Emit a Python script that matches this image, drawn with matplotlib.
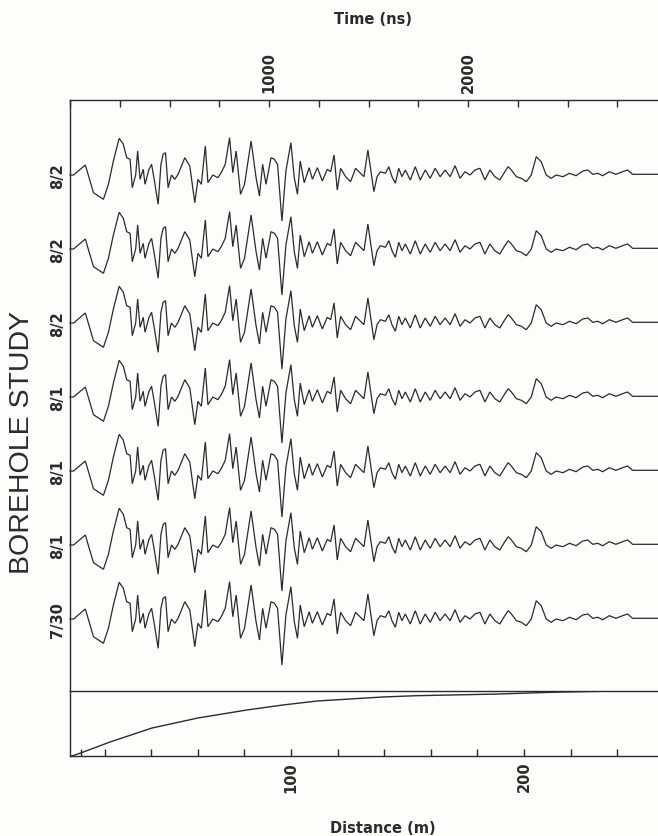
import matplotlib
matplotlib.use("Agg")
import matplotlib.pyplot as plt
from matplotlib.transforms import blended_transform_factory

W, H = 658, 837

# ---------------- data ----------------
trace_labels = ["8/2", "8/2", "8/2", "8/1", "8/1", "8/1", "7/30"]
trace_gain = [1.0, 1.0, 1.0, 1.0, 1.0, 1.0, 1.0]

# one recorded waveform (time in ns, amplitude in screen-ish units)
trace_time = [0, 18, 77, 118, 168, 193, 218, 247, 268, 285, 302, 313, 330, 340, 352, 368,
              377, 397, 410, 423, 443, 457, 468, 480, 493, 510, 527, 543, 577, 602, 627,
              643, 660, 680, 693, 718, 743, 760, 780, 802, 818, 835, 857, 877, 910, 935,
              952, 968, 985, 1010, 1027, 1043, 1065, 1085, 1110, 1127, 1143, 1157, 1177,
              1202, 1218, 1243, 1268, 1293, 1310, 1327, 1343, 1360, 1385, 1410, 1435, 1460,
              1477, 1497, 1510, 1527, 1543, 1560, 1585, 1602, 1618, 1635, 1652, 1668, 1685,
              1710, 1735, 1760, 1785, 1810, 1835, 1860, 1885, 1910, 1935, 1960, 1985, 2010,
              2035, 2060, 2085, 2110, 2135, 2160, 2185, 2202, 2218, 2243, 2268, 2293, 2318,
              2343, 2368, 2393, 2418, 2443, 2477, 2510, 2543, 2577, 2602, 2627, 2652, 2677,
              2710, 2743, 2777, 2802, 2827, 2860, 2910, 2950, 3000]
trace_amp = [0, 0, 10, -17.7, -24.3, -9.3, 14, 36.7, 30.7, 17.3, 15.7, -12.7, 0, 24, -4.3, 5.7,
             -9.3, 5.7, 10.7, -4.3, -29.3, 10.7, 20.7, 22.3, -12.7, 0, -4.3, 0.7, 17.3, 9, -27.7,
             -4.3, -9.3, 29, -7.7, 0, -2.7, 2.3, 10.7, 37.3, 2.3, 24, -19.3, -9.3, 34, -2.7,
             -21, 10.7, -9.3, 17.3, 15.7, 10.7, -46, 4, 32.3, -2.7, -19.3, 14, -7.7,
             7.3, -4.3, 7.3, -6, 5.7, 3.3, 20, -15, 6.7, -1.7, -6.7, 6.7, 1.7,
             -1.7, 25, 6.7, -16.7, -1.7, 3.3, 1.7, 8.3, -1.7, -8.3, 6.7, -1.7, 5,
             -5, 8.3, -5, 5, -3.3, 6.7, -1.7, 5, -1.7, 9.3, -3.3, 3.3, 0,
             5, 6.7, -5, 5, -1.7, -5, 3.3, 8.3, 5, -1.7, -3.3, -6.7, 0,
             18.3, 13.3, 0, -3.3, 0, -1.7, 1.7, -0.7, 4, 5, 0.7, 1.7, -0.7,
             3.3, 0.7, 3.3, 5, 0.7, 0.7, 0.7, 0.7, 0.7]

time_ticks = [0, 250, 500, 750, 1000, 1250, 1500, 1750, 2000, 2250, 2500, 2750]
time_labeled = [1000, 2000]

dist_ticks = [10, 20, 40, 60, 80, 100, 120, 140, 160, 180, 200, 220, 240, 260]
dist_labeled = [100, 200]

curve_dist = [5.2, 5.9, 9.9, 22.3, 40.3, 60.1, 81.1, 96.6, 111.2, 125.3, 139.5, 154.1,
              168.2, 189.7, 211.2, 232.6, 261.4]
curve_val = [0.0, 0.0, 0.048, 0.215, 0.43, 0.585, 0.708, 0.785, 0.846, 0.877, 0.908, 0.928,
             0.938, 0.954, 0.98, 0.995, 1.0]

# ---------------- layout ----------------
INK = "#2b2b2b"
BG = "#fdfdfa"
FS = 10.5


def rect(x0, y0, x1, y1):
    return [x0 / W, 1 - y1 / H, (x1 - x0) / W, (y1 - y0) / H]


fig = plt.figure(figsize=(W / 100, H / 100), dpi=100, facecolor=BG)
plt.rcParams['font.family'] = ['DejaVu Sans']

LEFT, RIGHT = 70, 667
TOP, MID, BOT = 101, 692, 757
SPACING = 74.0
first_base = 176

ax1 = fig.add_axes(rect(LEFT, TOP, RIGHT, MID))
ax1.set_facecolor("none")
ax1.set_xlim(0, 3000)
y_top = -(first_base - TOP) / SPACING
y_bot = (MID - first_base) / SPACING
ax1.set_ylim(y_bot, y_top)

for i, (lab, g) in enumerate(zip(trace_labels, trace_gain)):
    ys = [i - g * a / SPACING for a in trace_amp]
    ax1.plot(trace_time, ys, color=INK, lw=0.9, solid_joinstyle="miter", clip_on=False)

for s in ["right", "bottom"]:
    ax1.spines[s].set_visible(False)
for s in ["top", "left"]:
    ax1.spines[s].set_color(INK)
    ax1.spines[s].set_linewidth(1.0)
ax1.xaxis.tick_top()
ax1.set_xticks(time_ticks)
ax1.set_xticklabels([str(t) if t in time_labeled else "" for t in time_ticks],
                    rotation=90, fontsize=FS, fontweight="bold", color=INK)
ax1.tick_params(axis="x", direction="in", length=5, width=1, color=INK, pad=5.5)
ax1.set_yticks([])

tr = blended_transform_factory(fig.transFigure, ax1.transData)
for i, lab in enumerate(trace_labels):
    fig.text(58 / W, i, lab, transform=tr, rotation=90, ha="center", va="center",
             fontsize=FS, fontweight="bold", color=INK)

ax2 = fig.add_axes(rect(LEFT, MID, RIGHT, BOT))
ax2.set_facecolor("none")
ax2.set_xlim(5.15, 261.4)
ax2.set_ylim(0, 1)
ax2.plot(curve_dist, curve_val, color=INK, lw=1.0)
ax2.spines["right"].set_visible(False)
for s in ["top", "left", "bottom"]:
    ax2.spines[s].set_color(INK)
    ax2.spines[s].set_linewidth(1.0)
ax2.set_xticks(dist_ticks)
ax2.set_xticklabels([str(d) if d in dist_labeled else "" for d in dist_ticks],
                    rotation=90, fontsize=FS, fontweight="bold", color=INK)
ax2.tick_params(axis="x", direction="in", length=5, width=1, color=INK, pad=3.5)
ax2.set_yticks([])

fig.text(373 / W, 1 - 19 / H, "Time (ns)", ha="center", va="center", fontsize=FS,
         fontweight="bold", color=INK)
fig.text(383 / W, 1 - 829 / H, "Distance (m)", ha="center", va="center", fontsize=FS,
         fontweight="bold", color=INK)
fig.text(22 / W, 1 - 442 / H, "BOREHOLE STUDY", rotation=90, ha="center", va="center",
         fontsize=20.5, family="Liberation Sans", color=INK)

fig.savefig("out.png", dpi=100, facecolor=BG)
